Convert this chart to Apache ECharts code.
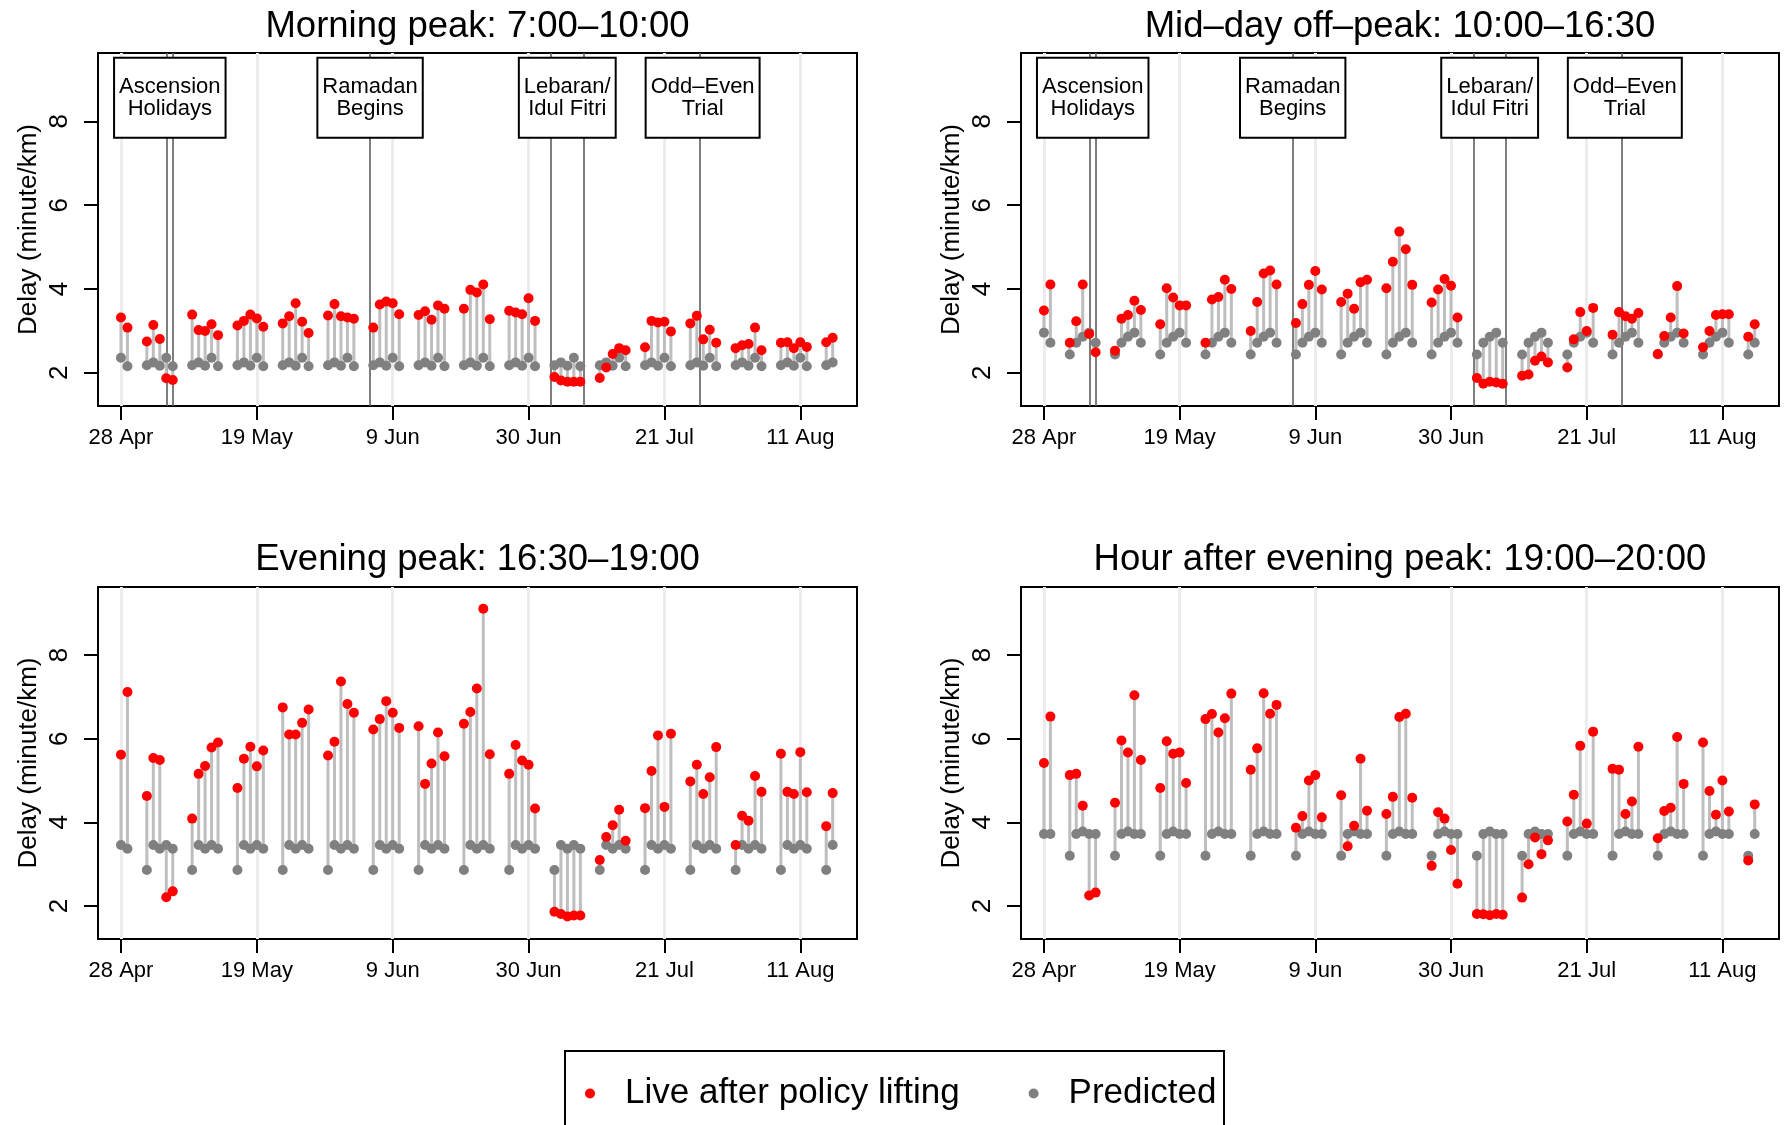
<!DOCTYPE html>
<html>
<head>
<meta charset="utf-8">
<title>Delay after policy lifting</title>
<script src="https://cdn.jsdelivr.net/npm/echarts@6/dist/echarts.min.js"></script>
<style>
  html, body { margin: 0; padding: 0; background: #fff; }
  #chart { width: 1784px; height: 1125px; }
</style>
</head>
<body>
<div id="chart"></div>
<script>
// days since 28 Apr 2016 (weekdays only)
const days = [
  0, 1,
  4, 5, 6, 7, 8,
  11, 12, 13, 14, 15,
  18, 19, 20, 21, 22,
  25, 26, 27, 28, 29,
  32, 33, 34, 35, 36,
  39, 40, 41, 42, 43,
  46, 47, 48, 49, 50,
  53, 54, 55, 56, 57,
  60, 61, 62, 63, 64,
  67, 68, 69, 70, 71,
  74, 75, 76, 77, 78,
  81, 82, 83, 84, 85,
  88, 89, 90, 91, 92,
  95, 96, 97, 98, 99,
  102, 103, 104, 105, 106,
  109, 110
];

const tickDays = [0, 21, 42, 63, 84, 105];
const tickLabels = ['28 Apr', '19 May', '9 Jun', '30 Jun', '21 Jul', '11 Aug'];
const yTicks = [2, 4, 6, 8];

const titles = [
  'Morning peak: 7:00–10:00',
  'Mid–day off–peak: 10:00–16:30',
  'Evening peak: 16:30–19:00',
  'Hour after evening peak: 19:00–20:00'
];

// event markers (only on the first two panels)
const eventLineDays = [7.06, 8.04, 38.5, 66.45, 71.5, 89.45];
const eventNames = ['Ascension\nHolidays', 'Ramadan\nBegins', 'Lebaran/\nIdul Fitri', 'Odd–Even\nTrial'];
const eventCenters = [7.55, 38.5, 68.98, 89.9];

// morning peak
const morningLive = [
  3.32, 3.08,
  2.75, 3.14, 2.81, 1.87, 1.83,
  3.39, 3.02, 3.00, 3.16, 2.90,
  3.13, 3.24, 3.39, 3.30, 3.10,
  3.18, 3.35, 3.66, 3.22, 2.95,
  3.37, 3.64, 3.35, 3.32, 3.29,
  3.08, 3.63, 3.70, 3.66, 3.40,
  3.38, 3.47, 3.27, 3.61, 3.53,
  3.53, 3.98, 3.92, 4.11, 3.28,
  3.48, 3.44, 3.40, 3.78, 3.24,
  1.90, 1.82, 1.79, 1.79, 1.79,
  1.88, 2.13, 2.45, 2.59, 2.54,
  2.61, 3.24, 3.20, 3.22, 2.99,
  3.18, 3.36, 2.80, 3.03, 2.72,
  2.59, 2.66, 2.69, 3.08, 2.54,
  2.72, 2.73, 2.59, 2.73, 2.62,
  2.73, 2.84
];
const morningPred = [
  2.36, 2.16,
  2.18, 2.25, 2.17, 2.36, 2.16,
  2.18, 2.25, 2.17, 2.36, 2.16,
  2.18, 2.25, 2.17, 2.36, 2.16,
  2.18, 2.25, 2.17, 2.36, 2.16,
  2.18, 2.25, 2.17, 2.36, 2.16,
  2.18, 2.25, 2.17, 2.36, 2.16,
  2.18, 2.25, 2.17, 2.36, 2.16,
  2.18, 2.25, 2.17, 2.36, 2.16,
  2.18, 2.25, 2.17, 2.36, 2.16,
  2.18, 2.25, 2.17, 2.36, 2.16,
  2.18, 2.25, 2.17, 2.36, 2.16,
  2.18, 2.25, 2.17, 2.36, 2.16,
  2.18, 2.25, 2.17, 2.36, 2.16,
  2.18, 2.25, 2.17, 2.36, 2.16,
  2.18, 2.25, 2.17, 2.36, 2.16,
  2.18, 2.25
];

// mid-day off-peak
const middayLive = [
  3.49, 4.11,
  2.72, 3.23, 4.11, 2.93, 2.49,
  2.53, 3.29, 3.38, 3.72, 3.50,
  3.16, 4.02, 3.80, 3.61, 3.61,
  2.72, 3.75, 3.81, 4.22, 4.00,
  3.00, 3.69, 4.37, 4.44, 4.11,
  3.19, 3.64, 4.10, 4.43, 3.99,
  3.69, 3.89, 3.53, 4.16, 4.22,
  4.02, 4.65, 5.37, 4.95, 4.10,
  3.68, 3.99, 4.24, 4.08, 3.32,
  1.88, 1.74, 1.79, 1.77, 1.74,
  1.93, 1.96, 2.29, 2.39, 2.25,
  2.13, 2.80, 3.45, 3.00, 3.55,
  2.91, 3.45, 3.35, 3.29, 3.43,
  2.45, 2.88, 3.32, 4.07, 2.94,
  2.61, 3.00, 3.38, 3.40, 3.40,
  2.86, 3.16
];
const middayPred = [
  2.96, 2.72,
  2.44, 2.72, 2.86, 2.96, 2.72,
  2.44, 2.72, 2.86, 2.96, 2.72,
  2.44, 2.72, 2.86, 2.96, 2.72,
  2.44, 2.72, 2.86, 2.96, 2.72,
  2.44, 2.72, 2.86, 2.96, 2.72,
  2.44, 2.72, 2.86, 2.96, 2.72,
  2.44, 2.72, 2.86, 2.96, 2.72,
  2.44, 2.72, 2.86, 2.96, 2.72,
  2.44, 2.72, 2.86, 2.96, 2.72,
  2.44, 2.72, 2.86, 2.96, 2.72,
  2.44, 2.72, 2.86, 2.96, 2.72,
  2.44, 2.72, 2.86, 2.96, 2.72,
  2.44, 2.72, 2.86, 2.96, 2.72,
  2.44, 2.72, 2.86, 2.96, 2.72,
  2.44, 2.72, 2.86, 2.96, 2.72,
  2.44, 2.72
];

// evening peak
const eveningLive = [
  5.62, 7.12,
  4.63, 5.54, 5.49, 2.21, 2.35,
  4.09, 5.16, 5.35, 5.79, 5.91,
  4.82, 5.52, 5.81, 5.34, 5.72,
  6.75, 6.10, 6.10, 6.38, 6.70,
  5.60, 5.93, 7.37, 6.83, 6.62,
  6.22, 6.47, 6.90, 6.62, 6.26,
  6.30, 4.92, 5.41, 6.15, 5.58,
  6.36, 6.64, 7.20, 9.11, 5.63,
  5.16, 5.85, 5.48, 5.38, 4.33,
  1.86, 1.81, 1.75, 1.77, 1.77,
  3.10, 3.65, 3.93, 4.30, 3.56,
  4.34, 5.23, 6.08, 4.37, 6.12,
  4.98, 5.38, 4.68, 5.08, 5.80,
  3.46, 4.16, 4.04, 5.11, 4.73,
  5.64, 4.73, 4.68, 5.68, 4.72,
  3.91, 4.70
];
const eveningPred = [
  3.46, 3.37,
  2.86, 3.46, 3.37, 3.46, 3.37,
  2.86, 3.46, 3.37, 3.46, 3.37,
  2.86, 3.46, 3.37, 3.46, 3.37,
  2.86, 3.46, 3.37, 3.46, 3.37,
  2.86, 3.46, 3.37, 3.46, 3.37,
  2.86, 3.46, 3.37, 3.46, 3.37,
  2.86, 3.46, 3.37, 3.46, 3.37,
  2.86, 3.46, 3.37, 3.46, 3.37,
  2.86, 3.46, 3.37, 3.46, 3.37,
  2.86, 3.46, 3.37, 3.46, 3.37,
  2.86, 3.46, 3.37, 3.46, 3.37,
  2.86, 3.46, 3.37, 3.46, 3.37,
  2.86, 3.46, 3.37, 3.46, 3.37,
  2.86, 3.46, 3.37, 3.46, 3.37,
  2.86, 3.46, 3.37, 3.46, 3.37,
  2.86, 3.46
];

// hour after evening peak
const afterLive = [
  5.42, 6.53,
  5.13, 5.16, 4.40, 2.25, 2.32,
  4.47, 5.96, 5.67, 7.04, 5.49,
  4.82, 5.94, 5.64, 5.67, 4.94,
  6.47, 6.59, 6.15, 6.49, 7.08,
  5.26, 5.77, 7.09, 6.60, 6.81,
  3.87, 4.15, 5.00, 5.13, 4.12,
  4.65, 3.43, 3.92, 5.52, 4.28,
  4.20, 4.61, 6.52, 6.60, 4.59,
  2.96, 4.24, 4.09, 3.34, 2.53,
  1.81, 1.80, 1.78, 1.81, 1.79,
  2.20, 3.00, 3.64, 3.24, 3.57,
  4.02, 4.66, 5.83, 3.97, 6.17,
  5.28, 5.26, 4.20, 4.50, 5.81,
  3.62, 4.27, 4.35, 6.04, 4.92,
  5.91, 4.75, 4.18, 5.00, 4.26,
  3.09, 4.43
];
const afterPred = [
  3.72, 3.72,
  3.20, 3.72, 3.78, 3.72, 3.72,
  3.20, 3.72, 3.78, 3.72, 3.72,
  3.20, 3.72, 3.78, 3.72, 3.72,
  3.20, 3.72, 3.78, 3.72, 3.72,
  3.20, 3.72, 3.78, 3.72, 3.72,
  3.20, 3.72, 3.78, 3.72, 3.72,
  3.20, 3.72, 3.78, 3.72, 3.72,
  3.20, 3.72, 3.78, 3.72, 3.72,
  3.20, 3.72, 3.78, 3.72, 3.72,
  3.20, 3.72, 3.78, 3.72, 3.72,
  3.20, 3.72, 3.78, 3.72, 3.72,
  3.20, 3.72, 3.78, 3.72, 3.72,
  3.20, 3.72, 3.78, 3.72, 3.72,
  3.20, 3.72, 3.78, 3.72, 3.72,
  3.20, 3.72, 3.78, 3.72, 3.72,
  3.20, 3.72
];

const liveSets = [morningLive, middayLive, eveningLive, afterLive];
const predSets = [morningPred, middayPred, eveningPred, afterPred];

const FONT = '"Liberation Sans", Arial, Helvetica, sans-serif';
const LIVE = 'Live after policy lifting';
const PRED = 'Predicted';

const grids = [
  { left: 98, top: 53, width: 759, height: 353 },
  { left: 1021, top: 53, width: 758, height: 353 },
  { left: 98, top: 587, width: 759, height: 352 },
  { left: 1021, top: 587, width: 758, height: 352 }
];
const titlePos = [
  { left: 477.5, top: 8.5 },
  { left: 1400, top: 8.5 },
  { left: 477.5, top: 541.5 },
  { left: 1400, top: 541.5 }
];

const xAxes = [], yAxes = [], series = [];

for (let i = 0; i < 4; i++) {
  xAxes.push({
    type: 'value', gridIndex: i, min: -3.55, max: 113.76,
    axisLine: { show: false, onZero: false },
    splitLine: { show: false },
    axisTick: { customValues: tickDays, length: 14, lineStyle: { color: '#000', width: 2 } },
    axisLabel: {
      customValues: tickDays, fontSize: 22, color: '#000', fontFamily: FONT, margin: 21,
      formatter: v => tickLabels[tickDays.indexOf(v)]
    }
  });
  yAxes.push({
    type: 'value', gridIndex: i, min: 1.21, max: 9.63,
    axisLine: { show: false, onZero: false },
    splitLine: { show: false },
    axisTick: { customValues: yTicks, length: 14, lineStyle: { color: '#000', width: 2 } },
    axisLabel: { customValues: yTicks, rotate: 90, fontSize: 26, color: '#000', fontFamily: FONT, margin: 25.5 },
    name: 'Delay (minute/km)', nameLocation: 'middle', nameGap: 56, nameRotate: 90,
    nameTextStyle: { fontSize: 26, color: '#000', fontFamily: FONT }
  });

  const live = liveSets[i], pred = predSets[i];
  const segData = days.map((d, k) => [d, live[k], pred[k]]);

  // background: light grid lines at the date ticks, and event lines
  const marks = tickDays.map(d => ({ xAxis: d, lineStyle: { color: '#ececec', width: 3, type: 'solid' } }));
  if (i < 2) {
    eventLineDays.forEach(d => marks.push({ xAxis: d, lineStyle: { color: '#5e5e5e', width: 1.6, type: 'solid' } }));
  }

  series.push({
    type: 'custom', name: 'segments', xAxisIndex: i, yAxisIndex: i, z: 2,
    data: segData,
    encode: { x: 0, y: [1, 2] },
    renderItem: (params, api) => {
      const a = api.coord([api.value(0), api.value(1)]);
      const b = api.coord([api.value(0), api.value(2)]);
      return {
        type: 'line',
        shape: { x1: a[0], y1: a[1], x2: b[0], y2: b[1] },
        style: { stroke: '#bebebe', lineWidth: 3 }
      };
    },
    markLine: {
      silent: true, symbol: ['none', 'none'], label: { show: false },
      lineStyle: { type: 'solid' },
      z: 1, data: marks, animation: false
    }
  });
  series.push({
    type: 'scatter', name: PRED, xAxisIndex: i, yAxisIndex: i, z: 3,
    symbolSize: 10, itemStyle: { color: '#808080', opacity: 1 },
    data: days.map((d, k) => [d, pred[k]])
  });
  series.push({
    type: 'scatter', name: LIVE, xAxisIndex: i, yAxisIndex: i, z: 4,
    symbolSize: 10, itemStyle: { color: '#ff0000', opacity: 1 },
    data: days.map((d, k) => [d, live[k]])
  });
  if (i < 2) {
    series.push({
      type: 'scatter', name: 'events', xAxisIndex: i, yAxisIndex: i, z: 5,
      symbolSize: 0, silent: true, itemStyle: { opacity: 1 },
      data: eventNames.map((n, k) => ({ name: n, value: [eventCenters[k], 9.49] })),
      label: {
        show: true, position: 'bottom', distance: 0, formatter: '{b}', opacity: 1,
        fontSize: 22, lineHeight: 22, color: '#000', fontFamily: FONT,
        backgroundColor: '#fff', borderColor: '#000', borderWidth: 2, padding: [17, 4]
      }
    });
  }
}

const chart = echarts.init(document.getElementById('chart'), null, { renderer: 'canvas' });
chart.setOption({
  animation: false,
  backgroundColor: '#fff',
  title: titles.map((t, i) => ({
    text: t, left: titlePos[i].left, top: titlePos[i].top, textAlign: 'center', padding: 0,
    textStyle: { fontSize: 36.5, fontWeight: 'normal', color: '#000', fontFamily: FONT }
  })),
  grid: grids.map(g => Object.assign({ show: true, borderColor: '#000', borderWidth: 2, backgroundColor: 'transparent' }, g)),
  xAxis: xAxes,
  yAxis: yAxes,
  series: series,
  legend: {
    data: [LIVE, PRED], icon: 'circle', left: 585, top: 1076, padding: 0,
    itemWidth: 60, itemHeight: 10, itemGap: 69,
    textStyle: { fontSize: 35, color: '#000', fontFamily: FONT }
  },
  graphic: [{
    type: 'rect', left: 564, top: 1050, z: -1,
    shape: { width: 659, height: 120 },
    style: { fill: '#fff', stroke: '#000', lineWidth: 2 }
  }]
});
</script>
</body>
</html>
